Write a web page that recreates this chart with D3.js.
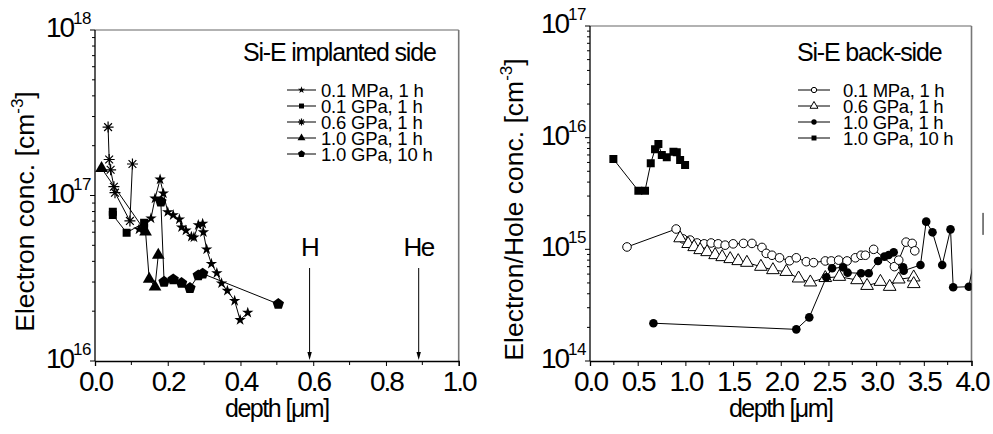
<!DOCTYPE html>
<html><head><meta charset="utf-8">
<script src="https://cdn.jsdelivr.net/npm/d3@7"></script>
<style>body{margin:0;background:#fff}svg{font-family:"Liberation Sans",Arial,sans-serif}</style>
</head><body><svg id="c" width="993" height="434"></svg>
<script>
// ---------- LEFT PANEL DATA (Si-E implanted side) ----------
const leftTitle = "Si-E implanted side";
const leftNames = ["0.1 MPa, 1 h","0.1 GPa, 1 h","0.6 GPa, 1 h","1.0 GPa, 1 h","1.0 GPa, 10 h"];
const l1Depth = [0.121,0.154,0.165,0.179,0.188,0.200,0.215,0.232,0.238,0.250,0.265,0.272,0.284,0.296,0.298,0.307,0.320,0.335,0.348,0.364,0.384,0.399,0.420];
const l1Conc  = [6.25e16,7.28e16,9.6e16,1.25e17,1.03e17,7.95e16,7.62e16,7.18e16,6.43e16,6.15e16,5.64e16,5.59e16,6.63e16,6.76e16,6.0e16,4.73e16,3.87e16,3.4e16,2.95e16,2.66e16,2.31e16,1.77e16,1.96e16];
const l2Depth = [0.049,0.049,0.087,0.135,0.135];
const l2Conc  = [7.98e16,7.62e16,5.96e16,6.85e16,6.36e16];
const l3Depth = [0.036,0.039,0.043,0.052,0.055,0.096,0.103];
const l3Conc  = [2.59e17,1.65e17,1.43e17,1.13e17,1.04e17,7.02e16,1.55e17];
const l4Depth = [0.018,0.139,0.149,0.165,0.174];
const l4Conc  = [1.46e17,6.04e16,3.13e16,2.81e16,4.37e16];
const l5Depth = [0.181,0.190,0.215,0.238,0.261,0.284,0.296,0.504];
const l5Conc  = [9.18e16,3.01e16,3.11e16,2.96e16,2.76e16,3.29e16,3.37e16,2.21e16];
const markerLabels = ["H","He"];
const markerDepths = [0.59,0.89];
const leftXTicks = [0,0.2,0.4,0.6,0.8,1.0];
const leftXMinor = [0.1,0.3,0.5,0.7,0.9];
const leftYExp = [16,17,18];

// ---------- RIGHT PANEL DATA (Si-E back-side) ----------
const rightTitle = "Si-E back-side";
const rightNames = ["0.1 MPa, 1 h","0.6 GPa, 1 h","1.0 GPa, 1 h","1.0 GPa, 10 h"];
const r1Depth = [0.388,0.903,0.976,1.050,1.123,1.197,1.270,1.344,1.417,1.501,1.609,1.698,1.803,1.848,1.908,1.987,2.092,2.163,2.268,2.344,2.467,2.530,2.607,2.695,2.782,2.842,2.887,2.974,3.192,3.237,3.314,3.378,3.405];
const r1Conc  = [1.05e15,1.52e15,1.24e15,1.21e15,1.14e15,1.12e15,1.14e15,1.12e15,1.09e15,1.12e15,1.13e15,1.13e15,1.04e15,9.2e14,8.85e14,8.4e14,7.9e14,8.4e14,7.75e14,7.6e14,7.87e14,7.87e14,8.0e14,7.87e14,8.4e14,8.85e14,8.85e14,1.0e15,7.0e14,8.0e14,1.16e15,1.13e15,9.7e14];
const r2Depth = [0.945,1.029,1.092,1.155,1.228,1.312,1.386,1.470,1.554,1.645,1.792,1.918,2.058,2.187,2.310,2.467,2.614,2.800,2.905,3.045,3.142,3.237,3.394,3.394];
const r2Conc  = [1.26e15,1.12e15,1.05e15,9.87e14,9.47e14,8.9e14,8.54e14,8.2e14,7.87e14,7.6e14,7.0e14,6.53e14,6.3e14,5.5e14,5.07e14,5.55e14,5.69e14,5.31e14,4.72e14,5.13e14,4.63e14,5.39e14,5.62e14,4.9e14];
const r3Depth = [0.665,2.163,2.299,2.478,2.538,2.653,2.701,2.842,2.922,3.020,3.087,3.132,3.184,3.283,3.289,3.465,3.525,3.591,3.693,3.780,3.808,3.972,4.10];
const r3Conc  = [2.18e14,1.92e14,2.46e14,5.62e14,6.76e14,6.9e14,6.18e14,6.1e14,6.1e14,7.87e14,8.6e14,8.9e14,9.4e14,6.9e14,6.44e14,7.24e14,1.77e15,1.42e15,7.24e14,1.51e15,4.57e14,4.63e14,1.69e15];
const r4Depth = [0.245,0.507,0.577,0.637,0.682,0.717,0.753,0.805,0.875,0.910,0.945,0.997];
const r4Conc  = [6.44e15,3.35e15,3.35e15,5.89e15,7.87e15,8.77e15,7.0e15,6.67e15,7.49e15,7.4e15,6.31e15,5.69e15];
const rightXTicks = [0,0.5,1.0,1.5,2.0,2.5,3.0,3.5,4.0];
const rightXMinor = [0.25,0.75,1.25,1.75,2.25,2.75,3.25,3.75];
const rightYExp = [14,15,16,17];

const xLabel = "depth [\u03BCm]";

// ---------- helpers ----------
const svg = d3.select("#c");
const zip = (a,b) => a.map((v,i)=>({d:v,c:b[i]}));

function pentagon(r){
  const p=[];for(let i=0;i<5;i++){const a=-Math.PI/2+i*2*Math.PI/5;p.push([r*Math.cos(a),r*Math.sin(a)]);}
  return "M"+p.map(q=>q[0].toFixed(2)+","+q[1].toFixed(2)).join("L")+"Z";
}
function asterisk(r){
  let s="";for(let i=0;i<4;i++){const a=i*Math.PI/4;const dx=r*Math.cos(a),dy=r*Math.sin(a);
    s+=`M${(-dx).toFixed(2)},${(-dy).toFixed(2)}L${dx.toFixed(2)},${dy.toFixed(2)}`;}
  return s;
}
function triSize(h){const y=h/3;return y*y*Math.sqrt(3)*3;}
function symPath(kind, s){
  switch(kind){
    case "star": return d3.symbol(d3.symbolStar, (6*s)*(6*s)/0.8908130915292852)();
    case "square": return d3.symbol(d3.symbolSquare,(8*s)*(8*s))();
    case "asterisk": return asterisk(5.5*s);
    case "triangle": return d3.symbol(d3.symbolTriangle, triSize(11*s))();
    case "pentagon": return pentagon(6*s);
    case "circle": return d3.symbol(d3.symbolCircle, Math.PI*(4.3*s)*(4.3*s))();
  }
}
function drawMarker(g, kind, open, x, y, s){
  const p = g.append("path").attr("d", symPath(kind,s)).attr("transform",`translate(${x},${y})`);
  if(kind==="asterisk") p.attr("fill","none").attr("stroke","#000").attr("stroke-width",1.2);
  else if(open) p.attr("fill","#fff").attr("stroke","#000").attr("stroke-width",1);
  else p.attr("fill","#000").attr("stroke","none");
}

function panel(cfg){
  const {x0,x1,y0,y1,xDomain,yExp,xTicks,xMinor,fmt,series,title,legend,yTitle,yTitleX,clipId} = cfg;
  const x = d3.scaleLinear().domain(xDomain).range([x0,x1]);
  const y = d3.scaleLog().domain([Math.pow(10,yExp[0]),Math.pow(10,yExp[yExp.length-1])]).range([y1,y0]);
  const g = svg.append("g");
  // frame top/right
  g.append("line").attr("x1",x0).attr("x2",x1).attr("y1",y0).attr("y2",y0).attr("stroke","#666").attr("stroke-width",1.2);
  g.append("line").attr("x1",x1).attr("x2",x1).attr("y1",y0).attr("y2",y1).attr("stroke","#777").attr("stroke-width",1.6);
  // x axis
  const xa = g.append("g").attr("transform",`translate(0,${y1})`)
    .call(d3.axisBottom(x).tickValues(xTicks).tickSize(5).tickFormat(fmt));
  xa.select(".domain").attr("stroke","#000").attr("stroke-width",1.3);
  xa.selectAll("text").attr("font-size",28).attr("letter-spacing",-2).attr("dy",0).attr("y",30).attr("fill","#000")
    .attr("font-family",'"Liberation Sans",Arial,sans-serif');
  g.append("g").attr("transform",`translate(0,${y1})`).selectAll("line").data(xMinor).join("line")
    .attr("x1",d=>x(d)).attr("x2",d=>x(d)).attr("y1",0).attr("y2",4).attr("stroke","#000");
  // y axis
  g.append("line").attr("x1",x0).attr("x2",x0).attr("y1",y0).attr("y2",y1).attr("stroke","#000").attr("stroke-width",1.3);
  const minor=[];
  for(let e=yExp[0];e<yExp[yExp.length-1];e++) for(let m=2;m<=9;m++) minor.push(m*Math.pow(10,e));
  g.selectAll(".ymin").data(minor).join("line").attr("x1",x0-3).attr("x2",x0).attr("y1",d=>y(d)).attr("y2",d=>y(d)).attr("stroke","#000");
  g.selectAll(".ymaj").data(yExp).join("line").attr("x1",x0-5).attr("x2",x0).attr("y1",d=>y(Math.pow(10,d))).attr("y2",d=>y(Math.pow(10,d))).attr("stroke","#000");
  yExp.forEach(e=>{
    const t=g.append("text").attr("x",x0-4).attr("y",y(Math.pow(10,e))+7).attr("text-anchor","end").attr("font-size",28).attr("letter-spacing",-2);
    t.append("tspan").text("10");
    t.append("tspan").attr("font-size",17).attr("dy",-13).attr("letter-spacing",-0.5).text(String(e));
  });
  // y title
  const yt = g.append("text").attr("transform",`translate(${yTitleX},${(y0+y1)/2+16}) rotate(-90)`)
    .attr("text-anchor","middle").attr("font-size",26.5);
  yt.append("tspan").text(yTitle+"  [cm");
  yt.append("tspan").attr("font-size",17).attr("dy",-11).text("-3");
  yt.append("tspan").attr("dy",11).text("]");
  // x title
  g.append("text").attr("x",(x0+x1)/2).attr("y",417).attr("text-anchor","middle").attr("font-size",25).attr("letter-spacing",-1.5).text(xLabel);
  // clip
  svg.append("clipPath").attr("id",clipId).append("rect").attr("x",x0).attr("y",y0).attr("width",x1-x0).attr("height",y1-y0);
  const dg = g.append("g").attr("clip-path",`url(#${clipId})`);
  const line = d3.line().x(d=>x(d.d)).y(d=>y(d.c));
  series.forEach(s=>{
    dg.append("path").attr("d",line(s.pts)).attr("fill","none").attr("stroke","#000").attr("stroke-width",1);
  });
  series.forEach(s=>{
    s.pts.forEach(p=>drawMarker(dg,s.kind,s.open,x(p.d),y(p.c),1));
  });
  // legend
  g.append("text").attr("x",legend.tx).attr("y",61).attr("font-size",25).attr("letter-spacing",-1.2).text(title);
  series.forEach((s,i)=>{
    const yy = 90 + i*16;
    g.append("line").attr("x1",legend.lx0).attr("x2",legend.lx1).attr("y1",yy).attr("y2",yy).attr("stroke","#000").attr("stroke-width",1);
    drawMarker(g,s.kind,s.open,(legend.lx0+legend.lx1)/2,yy,0.62);
    g.append("text").attr("x",legend.textX).attr("y",yy+6.5).attr("font-size",legend.fs).attr("letter-spacing",legend.ls).text(s.name);
  });
  return {x,y,g};
}

const fmt1 = d3.format(".1f");
const L = panel({
  x0:95,x1:458.7,y0:30,y1:361,xDomain:[0,1],yExp:leftYExp,xTicks:leftXTicks,xMinor:leftXMinor,fmt:fmt1,
  title:leftTitle,yTitle:"Electron conc.",yTitleX:34,clipId:"clipL",
  legend:{tx:243,lx0:287,lx1:316,textX:321,fs:18.5,ls:-0.2},
  series:[
    {name:leftNames[0],kind:"star",open:false,pts:zip(l1Depth,l1Conc)},
    {name:leftNames[1],kind:"square",open:false,pts:zip(l2Depth,l2Conc)},
    {name:leftNames[2],kind:"asterisk",open:false,pts:zip(l3Depth,l3Conc)},
    {name:leftNames[3],kind:"triangle",open:false,pts:zip(l4Depth,l4Conc)},
    {name:leftNames[4],kind:"pentagon",open:false,pts:zip(l5Depth,l5Conc)}
  ]
});
// H / He markers
markerDepths.forEach((d,i)=>{
  const xx = L.x(d);
  L.g.append("text").attr("x",xx).attr("y",256).attr("text-anchor","middle").attr("font-size",26).attr("letter-spacing",-1.5).text(markerLabels[i]);
  L.g.append("line").attr("x1",xx).attr("x2",xx).attr("y1",268).attr("y2",354).attr("stroke","#000").attr("stroke-width",1);
  L.g.append("path").attr("d",`M${xx-2.2},${352}L${xx+2.2},${352}L${xx},${360}Z`).attr("fill","#000");
});

const R = panel({
  x0:590,x1:971.5,y0:26,y1:361,xDomain:[0,4],yExp:rightYExp,xTicks:rightXTicks,xMinor:rightXMinor,fmt:fmt1,
  title:rightTitle,yTitle:"Electron/Hole conc.",yTitleX:523,clipId:"clipR",
  legend:{tx:797,lx0:798,lx1:830,textX:843,fs:18.5,ls:-0.3},
  series:[
    {name:rightNames[0],kind:"circle",open:true,pts:zip(r1Depth,r1Conc)},
    {name:rightNames[1],kind:"triangle",open:true,pts:zip(r2Depth,r2Conc)},
    {name:rightNames[2],kind:"circle",open:false,pts:zip(r3Depth,r3Conc)},
    {name:rightNames[3],kind:"square",open:false,pts:zip(r4Depth,r4Conc)}
  ]
});
// stray mark of the clipped last point beyond the frame
{
  const i=r3Depth.length-1, xx=R.x(r3Depth[i])+2, yy=R.y(r3Conc[i]);
  R.g.append("line").attr("x1",xx).attr("x2",xx).attr("y1",yy-11).attr("y2",yy+11).attr("stroke","#000").attr("stroke-width",1);
}
</script></body></html>
